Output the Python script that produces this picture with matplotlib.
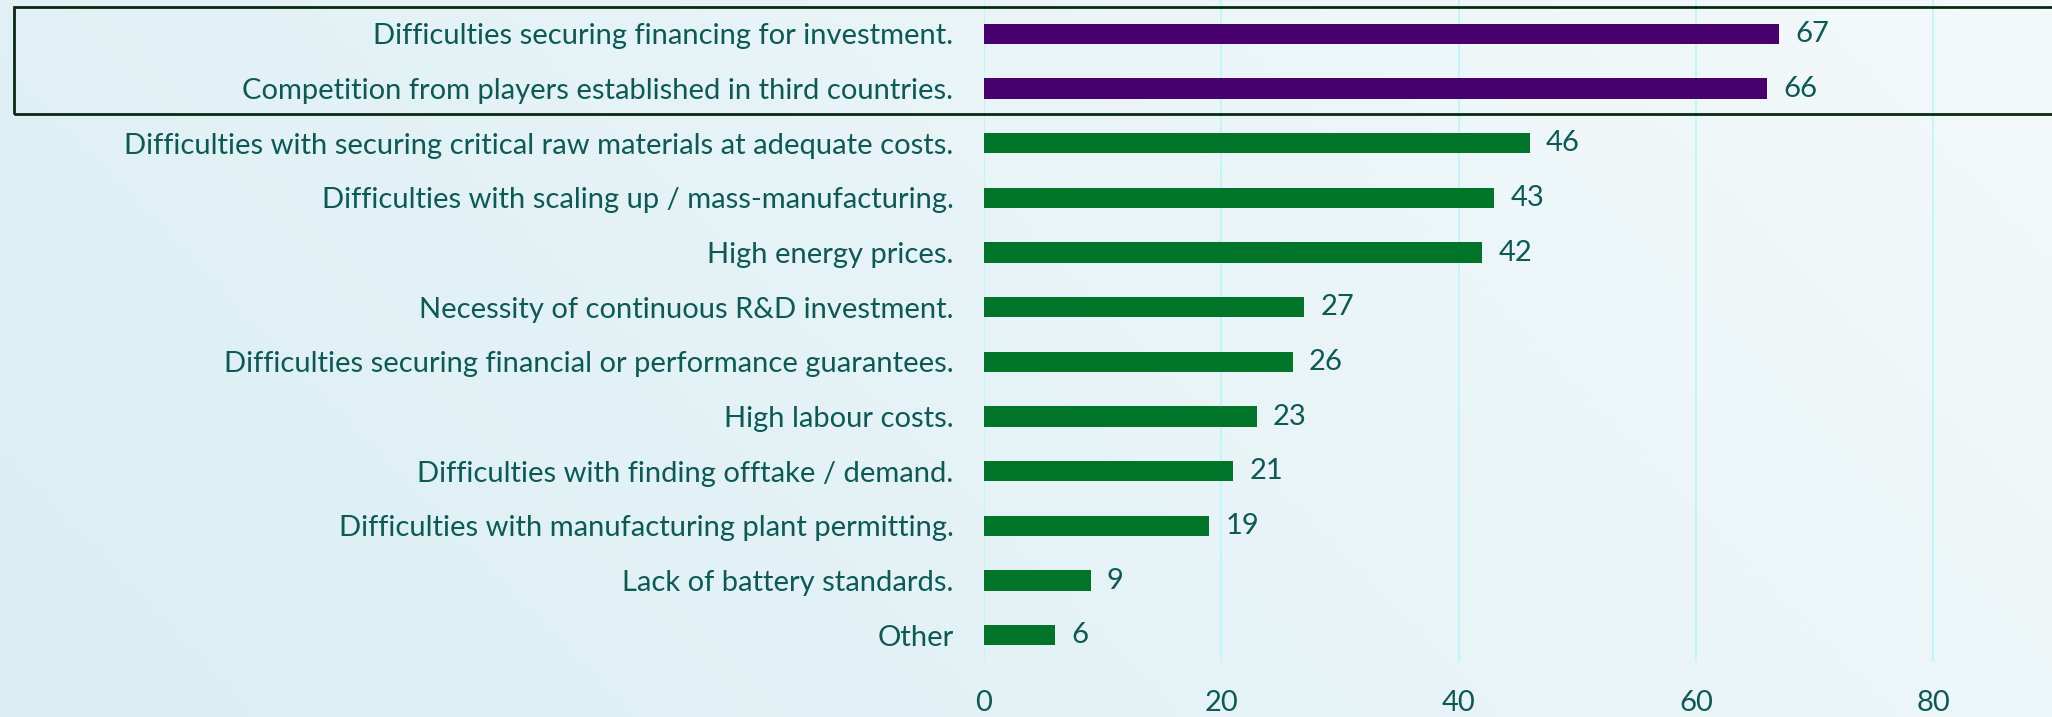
import matplotlib.pyplot as plt
import matplotlib.patches as patches
import numpy as np

categories = [
    "Difficulties securing financing for investment.",
    "Competition from players established in third countries.",
    "Difficulties with securing critical raw materials at adequate costs.",
    "Difficulties with scaling up / mass-manufacturing.",
    "High energy prices.",
    "Necessity of continuous R&D investment.",
    "Difficulties securing financial or performance guarantees.",
    "High labour costs.",
    "Difficulties with finding offtake / demand.",
    "Difficulties with manufacturing plant permitting.",
    "Lack of battery standards.",
    "Other",
]
values = [67, 66, 46, 43, 42, 27, 26, 23, 21, 19, 9, 6]
highlighted = [True, True] + [False] * 10
x_ticks = [0, 20, 40, 60, 80]

text_color = "#0b5a56"
purple = "#48006f"
green = "#00752a"
grid_color = "#bdf7fa"

plt.rcParams['font.family'] = ['Lato', 'DejaVu Sans']

W, H, DPI = 2052, 717, 100
fig = plt.figure(figsize=(W / DPI, H / DPI), dpi=DPI)

# soft gradient background
bg = fig.add_axes([0, 0, 1, 1], zorder=-10)
gx = np.linspace(0, 1, 256)
gy = np.linspace(0, 1, 64)
X, Y = np.meshgrid(gx, gy)
t = np.clip(0.75 * X + 0.25 * (1 - Y), 0, 1)
c0 = np.array([0xda, 0xee, 0xf3]) / 255
c1 = np.array([0xf4, 0xf9, 0xfa]) / 255
img = c0[None, None, :] * (1 - t[..., None]) + c1[None, None, :] * t[..., None]
bg.imshow(img, aspect='auto', extent=[0, 1, 0, 1], origin='upper')
bg.axis('off')

left = 984 / W
bottom = 1 - 662 / H
ax = fig.add_axes([left, bottom, 1 - left, 662 / H])
ax.patch.set_alpha(0)

fs = 21
y = np.arange(len(categories))
colors = [purple if h else green for h in highlighted]
ax.barh(y, values, height=0.37, color=colors, zorder=3)

for yi, v in zip(y, values):
    ax.text(v + 1.35, yi, str(v), va='center', ha='left', fontsize=fs, color=text_color)

ax.set_xlim(0, 90)
ax.set_ylim(11.49, -0.62)
ax.set_yticks(y)
ax.set_yticklabels(categories, fontsize=fs, color=text_color)
ax.set_xticks(x_ticks)
ax.set_xticklabels([str(v) for v in x_ticks], fontsize=fs, color=text_color)
ax.tick_params(axis='y', length=0, pad=22)
ax.tick_params(axis='x', length=0, pad=20)
ax.grid(axis='x', color=grid_color, linewidth=1.3, zorder=0)
for s in ax.spines.values():
    s.set_visible(False)

# box around the two highlighted rows
box = patches.Rectangle((14 / W, 1 - 114 / H), 1.0, (114 - 7) / H,
                        transform=fig.transFigure, fill=False,
                        edgecolor="#0a2814", linewidth=2.0, zorder=5)
fig.patches.append(box)

fig.savefig("out.png", dpi=DPI)
